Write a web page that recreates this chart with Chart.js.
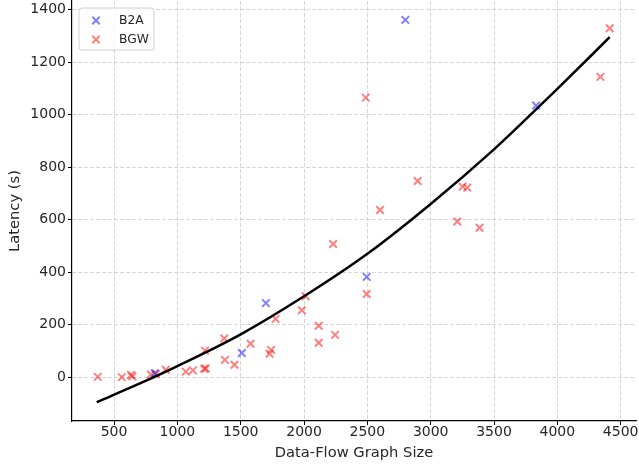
<!DOCTYPE html>
<html>
<head>
<meta charset="utf-8">
<script src="https://cdn.jsdelivr.net/npm/chart.js@4/dist/chart.umd.min.js"></script>
<style>
  html, body { margin: 0; padding: 0; background: #fff; }
  #wrap { width: 639px; height: 466px; position: relative; }
</style>
</head>
<body>
<div id="wrap"><canvas id="c" width="639" height="466"></canvas></div>
<script>
// ---- data ----
const b2aX = [822, 1509, 1699, 2495, 2800, 3832];
const b2aY = [15, 92, 282, 382, 1361, 1035];

const bgwX = [371, 561, 634, 645, 791, 830, 908, 1066, 1123, 1212, 1224, 1218, 1370, 1376, 1451,
              1578, 1728, 1740, 1775, 1982, 2013, 2116, 2116, 2245, 2230, 2487, 2495, 2600, 2897,
              3210, 3252, 3289, 3386, 4340, 4413];
const bgwY = [1, 0, 8, 3, 10, 12, 28, 21, 26, 32, 33, 101, 147, 66, 47,
              127, 89, 104, 222, 255, 308, 196, 131, 161, 507, 1065, 317, 637, 747,
              593, 726, 722, 569, 1144, 1329];

const fitX = [363, 700, 1000, 1500, 2000, 2500, 3000, 3500, 3785, 4000, 4413];
const fitY = [-95, -25, 42, 163, 308, 470, 660, 868, 998, 1098, 1295];

const xTicks = [500, 1000, 1500, 2000, 2500, 3000, 3500, 4000, 4500];
const yTicks = [0, 200, 400, 600, 800, 1000, 1200, 1400];

const seriesNames = ['B2A', 'BGW'];
const xTitle = 'Data-Flow Graph Size';
const yTitle = 'Latency (s)';

// ---- build ----
const pts = (xs, ys) => xs.map((x, i) => ({ x: x, y: ys[i] }));

const legendPlugin = {
  id: 'boxLegend',
  afterDraw(chart) {
    const ctx = chart.ctx;
    const items = chart.data.datasets.filter(d => d.showInLegend);
    ctx.save();
    const bx = 79, by = 8, bw = 75, bh = 42, r = 3;
    ctx.beginPath();
    ctx.moveTo(bx + r, by);
    ctx.arcTo(bx + bw, by, bx + bw, by + bh, r);
    ctx.arcTo(bx + bw, by + bh, bx, by + bh, r);
    ctx.arcTo(bx, by + bh, bx, by, r);
    ctx.arcTo(bx, by, bx + bw, by, r);
    ctx.closePath();
    ctx.fillStyle = 'rgba(255,255,255,0.8)';
    ctx.fill();
    ctx.strokeStyle = '#d0d0d0';
    ctx.lineWidth = 1;
    ctx.stroke();
    items.forEach((d, i) => {
      const cx = 96, cy = 20.5 + i * 19;
      const s = 3.7;
      ctx.beginPath();
      ctx.moveTo(cx - s, cy - s); ctx.lineTo(cx + s, cy + s);
      ctx.moveTo(cx - s, cy + s); ctx.lineTo(cx + s, cy - s);
      ctx.strokeStyle = d.borderColor;
      ctx.lineWidth = 2;
      ctx.stroke();
      ctx.fillStyle = '#262626';
      ctx.font = '12.3px "DejaVu Sans"';
      ctx.textBaseline = 'middle';
      ctx.textAlign = 'left';
      ctx.fillText(d.label, 119, cy);
    });
    ctx.restore();
  }
};

new Chart(document.getElementById('c'), {
  type: 'scatter',
  data: {
    datasets: [
      {
        type: 'line',
        label: 'fit',
        data: pts(fitX, fitY),
        borderColor: '#000',
        borderWidth: 2.5,
        pointRadius: 0,
        cubicInterpolationMode: 'monotone',
        fill: false,
        showInLegend: false
      },
      {
        label: seriesNames[0],
        data: pts(b2aX, b2aY),
        pointStyle: 'crossRot',
        pointRadius: 5.3,
        borderWidth: 2,
        borderColor: 'rgba(0,0,255,0.5)',
        backgroundColor: 'rgba(0,0,255,0.5)',
        showInLegend: true
      },
      {
        label: seriesNames[1],
        data: pts(bgwX, bgwY),
        pointStyle: 'crossRot',
        pointRadius: 5.3,
        borderWidth: 2,
        borderColor: 'rgba(255,0,0,0.5)',
        backgroundColor: 'rgba(255,0,0,0.5)',
        showInLegend: true
      }
    ]
  },
  options: {
    responsive: false,
    animation: false,
    layout: { autoPadding: false, padding: { top: 1, right: 3, left: 0, bottom: 0 } },
    plugins: { legend: { display: false }, tooltip: { enabled: false } },
    scales: {
      x: {
        type: 'linear',
        min: 168, max: 4621,
        afterBuildTicks: (s) => { s.ticks = xTicks.map(v => ({ value: v })); },
        afterFit: (s) => { s.height = 45; s.paddingLeft = 0; s.paddingRight = 0; },
        ticks: {
          color: '#262626',
          font: { family: 'DejaVu Sans', size: 14, lineHeight: 1 },
          padding: 0,
          maxRotation: 0,
          autoSkip: false,
          callback: (v) => String(v)
        },
        grid: {
          color: '#cccccc', lineWidth: 0.8,
          tickColor: '#000', tickLength: 4, tickWidth: 1, tickBorderDash: []
        },
        border: { display: true, color: '#000', width: 1.2, dash: [4, 2] },
        title: {
          display: true, text: xTitle, color: '#262626',
          font: { family: 'DejaVu Sans', size: 14.7 },
          padding: { top: 0, bottom: 4 }
        }
      },
      y: {
        type: 'linear',
        min: -167, max: 1433,
        afterBuildTicks: (s) => { s.ticks = yTicks.map(v => ({ value: v })); },
        afterFit: (s) => { s.width = 72; s.paddingTop = 0; s.paddingBottom = 0; },
        ticks: {
          color: '#262626',
          font: { family: 'DejaVu Sans', size: 14, lineHeight: 1 },
          padding: 2,
          autoSkip: false,
          callback: (v) => String(v)
        },
        grid: {
          color: '#cccccc', lineWidth: 0.8,
          tickColor: '#000', tickLength: 4, tickWidth: 1, tickBorderDash: []
        },
        border: { display: true, color: '#000', width: 1.2, dash: [4, 2] },
        title: {
          display: true, text: yTitle, color: '#262626',
          font: { family: 'DejaVu Sans', size: 14.7 },
          padding: { top: 6, bottom: 0 }
        }
      }
    }
  },
  plugins: [legendPlugin]
});
</script>
</body>
</html>
